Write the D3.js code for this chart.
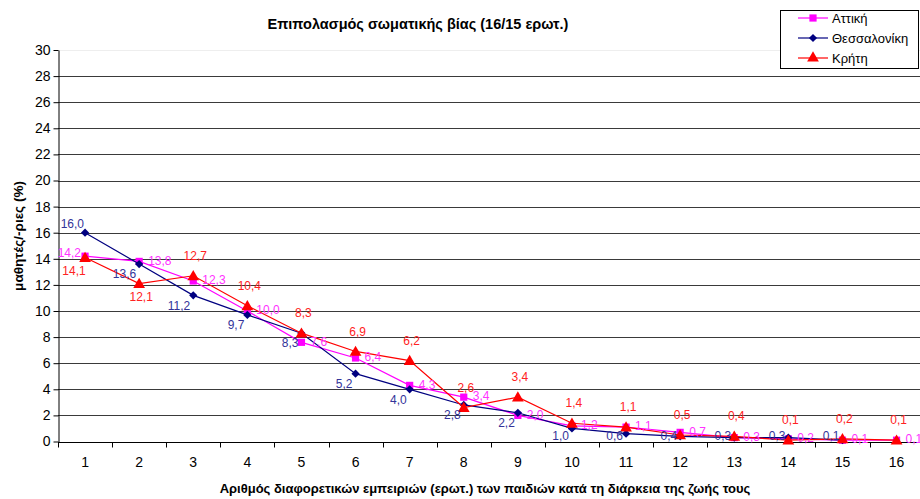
<!DOCTYPE html>
<html><head><meta charset="utf-8">
<script src="https://cdn.jsdelivr.net/npm/d3@7"></script>
<style>
html,body{margin:0;padding:0;background:#fff;}
svg{display:block;font-family:Arial,"Liberation Sans",sans-serif;}
</style></head>
<body><svg id="c" width="920" height="499"></svg>
<script>
const categories = [1,2,3,4,5,6,7,8,9,10,11,12,13,14,15,16];
const attiki = [14.2,13.8,12.3,10.0,7.6,6.4,4.3,3.4,2.0,1.2,1.1,0.7,0.3,0.2,0.1,0.1];
const thessaloniki = [16.0,13.6,11.2,9.7,8.3,5.2,4.0,2.8,2.2,1.0,0.6,0.4,0.3,0.3,0.1,null];
const kriti = [14.1,12.1,12.7,10.4,8.3,6.9,6.2,2.6,3.4,1.4,1.1,0.5,0.4,0.1,0.2,0.1];
const yTicks = [0,2,4,6,8,10,12,14,16,18,20,22,24,26,28,30];
const seriesNames = ["Αττική","Θεσσαλονίκη","Κρήτη"];
const title = "Επιπολασμός σωματικής βίας (16/15 ερωτ.)";
const xTitle = "Αριθμός διαφορετικών εμπειριών (ερωτ.) των παιδιών κατά τη διάρκεια της ζωής τους";
const yTitle = "μαθητές/-ριες (%)";

const svg = d3.select("#c");
const left = 58, bandW = 54.1;
const x = d3.scaleBand().domain(categories).range([left, left + bandW*categories.length]).padding(0);
const y = d3.scaleLinear().domain([0,30]).range([441.5, 50]);
const fmt = v => v.toFixed(1).replace(".", ",");
const cx = c => x(c) + x.bandwidth()/2;

// gridlines
svg.append("g").selectAll("line").data(yTicks.filter(t => t > 0)).join("line")
  .attr("x1", left).attr("x2", 920)
  .attr("y1", d => Math.round(y(d)) + 0.5).attr("y2", d => Math.round(y(d)) + 0.5)
  .attr("stroke", d => d === 30 ? "#eeeeee" : "#3a3a3a").attr("stroke-width", 1);

// y axis
const ya = svg.append("g").attr("transform", `translate(${left + 0.5},0)`)
  .call(d3.axisLeft(y).tickValues(yTicks).tickSize(5).tickSizeOuter(0).tickPadding(3).tickFormat(d => d));
ya.select(".domain").attr("stroke", "#000");
ya.selectAll(".tick line").attr("stroke", "#000");
ya.selectAll("text").attr("font-size", 14).attr("fill", "#000").attr("font-family", "Arial, 'Liberation Sans', sans-serif");

// x axis
const xa = svg.append("g").attr("transform", `translate(0,${Math.round(y(0)) + 0.5})`);
xa.append("line").attr("x1", left).attr("x2", 920).attr("stroke", "#000");
xa.selectAll(".tk").data(categories).join("line").attr("class","tk")
  .attr("x1", d => Math.round(x(d)) + 0.5).attr("x2", d => Math.round(x(d)) + 0.5)
  .attr("y1", 0).attr("y2", 5).attr("stroke", "#000");
xa.selectAll(".lb").data(categories).join("text").attr("class","lb")
  .attr("x", d => cx(d)).attr("y", 20).attr("dy", "0.35em")
  .attr("text-anchor", "middle").attr("font-size", 14).text(d => d);

// titles
svg.append("text").attr("x", 418).attr("y", 24).attr("dy", "0.35em").attr("text-anchor", "middle")
  .attr("font-size", 14.5).attr("font-weight", "bold").text(title);
svg.append("text").attr("x", 485).attr("y", 488).attr("dy", "0.35em").attr("text-anchor", "middle")
  .attr("font-size", 13).attr("font-weight", "bold").text(xTitle);
svg.append("text").attr("transform", "translate(18,236) rotate(-90)").attr("dy", "0.35em")
  .attr("text-anchor", "middle").attr("font-size", 13.5).attr("font-weight", "bold").text(yTitle);

const series = [
  {name: seriesNames[0], values: attiki, color: "#ff00ff", label: "#ff33ff", sym: d3.symbolSquare, size: 52, rot: 0},
  {name: seriesNames[1], values: thessaloniki, color: "#000080", label: "#333399", sym: d3.symbolSquare, size: 34, rot: 45},
  {name: seriesNames[2], values: kriti, color: "#ff0000", label: "#ff2222", sym: d3.symbolTriangle, size: 60, rot: 0}
];

const line = d3.line().defined(d => d.v != null).x(d => cx(d.c)).y(d => y(d.v));
series.forEach((s, si) => {
  const pts = categories.map((c, i) => ({c, v: s.values[i], i}));
  const g = svg.append("g");
  g.append("path").datum(pts).attr("d", line).attr("fill", "none").attr("stroke", s.color).attr("stroke-width", 1.2);
  g.selectAll("path.m").data(pts.filter(d => d.v != null)).join("path").attr("class","m")
    .attr("transform", d => `translate(${cx(d.c)},${y(d.v) + (si === 2 ? 1 : 0)}) rotate(${s.rot})`)
    .attr("d", d3.symbol(s.sym, s.size)).attr("fill", s.color);
});

// data labels
series.forEach((s, si) => {
  const pts = categories.map((c, i) => ({c, v: s.values[i], i})).filter(d => d.v != null);
  svg.append("g").selectAll("text").data(pts).join("text")
    .attr("font-size", 12).attr("fill", s.label).attr("dy", "0.35em")
    .each(function(d) {
      const t = d3.select(this), px = cx(d.c), py = y(d.v);
      if (si === 0) {
        if (d.i === 0) t.attr("x", px - 4).attr("y", py - 3).attr("text-anchor", "end");
        else t.attr("x", px + 9).attr("y", py - 1).attr("text-anchor", "start");
      } else if (si === 1) {
        if (d.i === 0) t.attr("x", px - 1).attr("y", py - 9).attr("text-anchor", "end");
        else t.attr("x", px - 3).attr("y", Math.min(py + 10, 436)).attr("text-anchor", "end");
      } else {
        if (d.i < 2) t.attr("x", px + (d.i === 0 ? -11 : 2)).attr("y", py + 13).attr("text-anchor", "middle");
        else t.attr("x", px + 2).attr("y", py - 20).attr("text-anchor", "middle");
      }
    })
    .text(d => fmt(d.v));
});

// legend
const lg = svg.append("g");
lg.append("rect").attr("x", 780.5).attr("y", 10.5).attr("width", 138).attr("height", 58)
  .attr("fill", "#fff").attr("stroke", "#000");
series.forEach((s, i) => {
  const ly = 18 + i * 20;
  lg.append("line").attr("x1", 798).attr("x2", 828).attr("y1", ly).attr("y2", ly).attr("stroke", s.color).attr("stroke-width", 1.2);
  lg.append("path").attr("transform", `translate(813,${ly}) rotate(${s.rot})`).attr("d", d3.symbol(s.sym, s.size)).attr("fill", s.color);
  lg.append("text").attr("x", 832).attr("y", ly).attr("dy", "0.35em").attr("font-size", 13).text(s.name);
});
</script></body></html>
